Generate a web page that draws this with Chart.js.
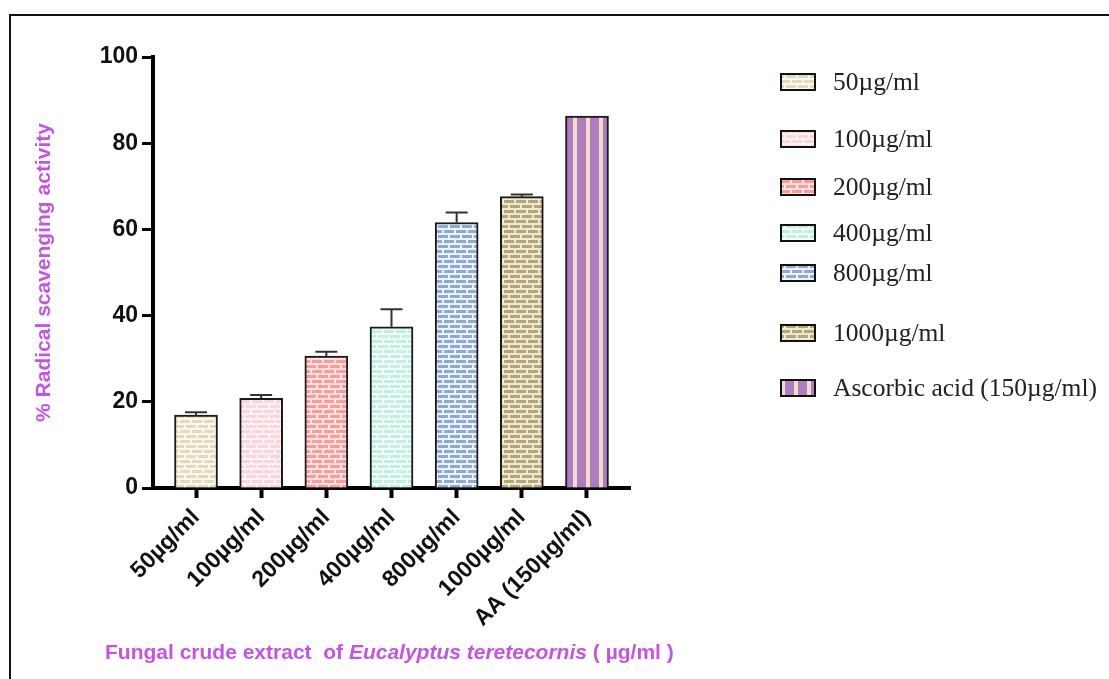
<!DOCTYPE html>
<html>
<head>
<meta charset="utf-8">
<title>Radical scavenging activity</title>
<script src="https://cdn.jsdelivr.net/npm/chart.js@4.4.1/dist/chart.umd.min.js"></script>
<style>
    html, body { margin: 0; padding: 0; background: #fff; overflow: hidden; }
    #wrap { position: relative; width: 1109px; height: 679px; }
    #frame { position: absolute; left: 9px; top: 14px; right: -10px; bottom: -10px;
             border-top: 2px solid #111; border-left: 2px solid #111; }
    #chart { position: absolute; left: 0; top: 0; }
</style>
</head>
<body>
<div id="wrap">
    <div id="frame"></div>
    <canvas id="chart" width="1109" height="679"></canvas>
</div>
<script>
// Categories, means and SD (upper error bar only)
const categories = ['50µg/ml', '100µg/ml', '200µg/ml', '400µg/ml', '800µg/ml', '1000µg/ml', 'AA (150µg/ml)'];
const legendNames = ['50µg/ml', '100µg/ml', '200µg/ml', '400µg/ml', '800µg/ml', '1000µg/ml', 'Ascorbic acid (150µg/ml)'];
const meanValues = [16.9, 20.8, 30.6, 37.4, 61.6, 67.6, 86.3];
const sdValues = [0.7, 0.8, 1.0, 4.1, 2.3, 0.5, 0];
const yTicks = [0, 20, 40, 60, 80, 100];

const purple = '#c653e8';
const canvas = document.getElementById('chart');
const ctx = canvas.getContext('2d');

// Brick fill like the GraphPad pattern: coloured bricks on pale mortar
function brickPattern(brick, mortar) {
    const c = document.createElement('canvas');
    c.width = 12; c.height = 10;
    const g = c.getContext('2d');
    g.fillStyle = mortar;
    g.fillRect(0, 0, 12, 10);
    g.fillStyle = brick;
    g.fillRect(0, 0, 10, 3);
    g.fillRect(6, 5, 10, 3);
    g.fillRect(-6, 5, 10, 3);
    return ctx.createPattern(c, 'repeat');
}

function stripePattern(a, b) {
    const c = document.createElement('canvas');
    c.width = 13; c.height = 4;
    const g = c.getContext('2d');
    g.fillStyle = a;
    g.fillRect(0, 0, 13, 4);
    g.fillStyle = b;
    g.fillRect(1, 0, 4, 4);
    return ctx.createPattern(c, 'repeat');
}

const fills = [
    brickPattern('#e4dabb', '#fbf8ee'),
    brickPattern('#ffd3d9', '#fff4f5'),
    brickPattern('#ff9a9a', '#ffe4e2'),
    brickPattern('#c0f1e0', '#f2fcf8'),
    brickPattern('#8caad7', '#eef2fa'),
    brickPattern('#b3a775', '#efe9d6'),
    stripePattern('#b07bbf', '#ebe0c8')
];

// Vertical centres of the legend rows
const legendRowY = [82, 139, 187, 233, 273, 333, 388];

const errorBars = {
    id: 'errorBars',
    afterDatasetsDraw(chart) {
        const c = chart.ctx;
        const y = chart.scales.y;
        c.save();
        c.strokeStyle = '#333';
        c.lineWidth = 2;
        chart.data.datasets.forEach((ds, i) => {
            if (!sdValues[i]) return;
            const bar = chart.getDatasetMeta(i).data[0];
            const top = y.getPixelForValue(meanValues[i]);
            const end = y.getPixelForValue(meanValues[i] + sdValues[i]);
            c.beginPath();
            c.moveTo(bar.x, top);
            c.lineTo(bar.x, end);
            c.moveTo(bar.x - 11, end);
            c.lineTo(bar.x + 11, end);
            c.stroke();
        });
        c.restore();
    }
};

const sideLegend = {
    id: 'sideLegend',
    afterDraw(chart) {
        const c = chart.ctx;
        c.save();
        legendNames.forEach((name, i) => {
            const cy = legendRowY[i];
            c.fillStyle = fills[i];
            c.fillRect(781, cy - 8, 34, 16);
            c.strokeStyle = '#111';
            c.lineWidth = 2;
            c.strokeRect(781, cy - 8, 34, 16);
            c.fillStyle = '#222';
            c.font = '25.5px "Liberation Serif", "Times New Roman", serif';
            c.textBaseline = 'middle';
            c.fillText(name, 833, cy + 1);
        });
        c.restore();
    }
};

// Axis title with the species name in italics
const xTitle = {
    id: 'xTitle',
    afterDraw(chart) {
        const c = chart.ctx;
        const parts = [
            ['Fungal crude extract  of ', false],
            ['Eucalyptus teretecornis', true],
            [' ( µg/ml )', false]
        ];
        c.save();
        c.fillStyle = purple;
        c.textBaseline = 'alphabetic';
        let x = 105;
        parts.forEach(([text, italic]) => {
            c.font = (italic ? 'italic ' : '') + 'bold 21px "Liberation Sans", Arial, sans-serif';
            c.fillText(text, x, 659);
            x += c.measureText(text).width;
        });
        c.restore();
    }
};

const datasets = categories.map((cat, i) => ({
    label: legendNames[i],
    data: [{ x: i, y: meanValues[i] }],
    backgroundColor: fills[i],
    borderColor: '#1a1a1a',
    borderWidth: 2,
    barThickness: 43,
    grouped: false
}));

const tickFont = { family: '"Liberation Sans", Arial, sans-serif', weight: 'bold' };

new Chart(ctx, {
    type: 'bar',
    data: { datasets: datasets },
    plugins: [errorBars, sideLegend, xTitle],
    options: {
        responsive: false,
        animation: false,
        layout: { padding: { top: 57, right: 479, bottom: 0, left: 0 } },
        plugins: {
            legend: { display: false },
            tooltip: { enabled: false }
        },
        scales: {
            x: {
                type: 'linear',
                offset: false,
                min: -0.66,
                max: 6.66,
                afterBuildTicks: s => { s.ticks = categories.map((_, i) => ({ value: i })); },
                afterFit: s => { s.height = 191; },
                ticks: {
                    autoSkip: false,
                    minRotation: 45,
                    maxRotation: 45,
                    padding: 6,
                    color: '#111',
                    font: Object.assign({ size: 23 }, tickFont),
                    callback: v => categories[Math.round(v)]
                },
                grid: { offset: false, drawOnChartArea: false, tickLength: 10, tickWidth: 4, tickColor: '#000' },
                border: { width: 4, color: '#000' }
            },
            y: {
                min: 0,
                max: 100,
                afterBuildTicks: s => { s.ticks = yTicks.map(v => ({ value: v })); },
                afterFit: s => { s.width = 153; },
                ticks: {
                    padding: 4,
                    color: '#111',
                    font: Object.assign({ size: 23 }, tickFont)
                },
                grid: { drawOnChartArea: false, tickLength: 11, tickWidth: 3, tickColor: '#000' },
                border: { width: 4, color: '#000' },
                title: {
                    display: true,
                    text: '% Radical scavenging activity',
                    color: purple,
                    font: Object.assign({ size: 21 }, tickFont),
                    padding: { top: 32, bottom: 0 }
                }
            }
        }
    }
});
</script>
</body>
</html>
